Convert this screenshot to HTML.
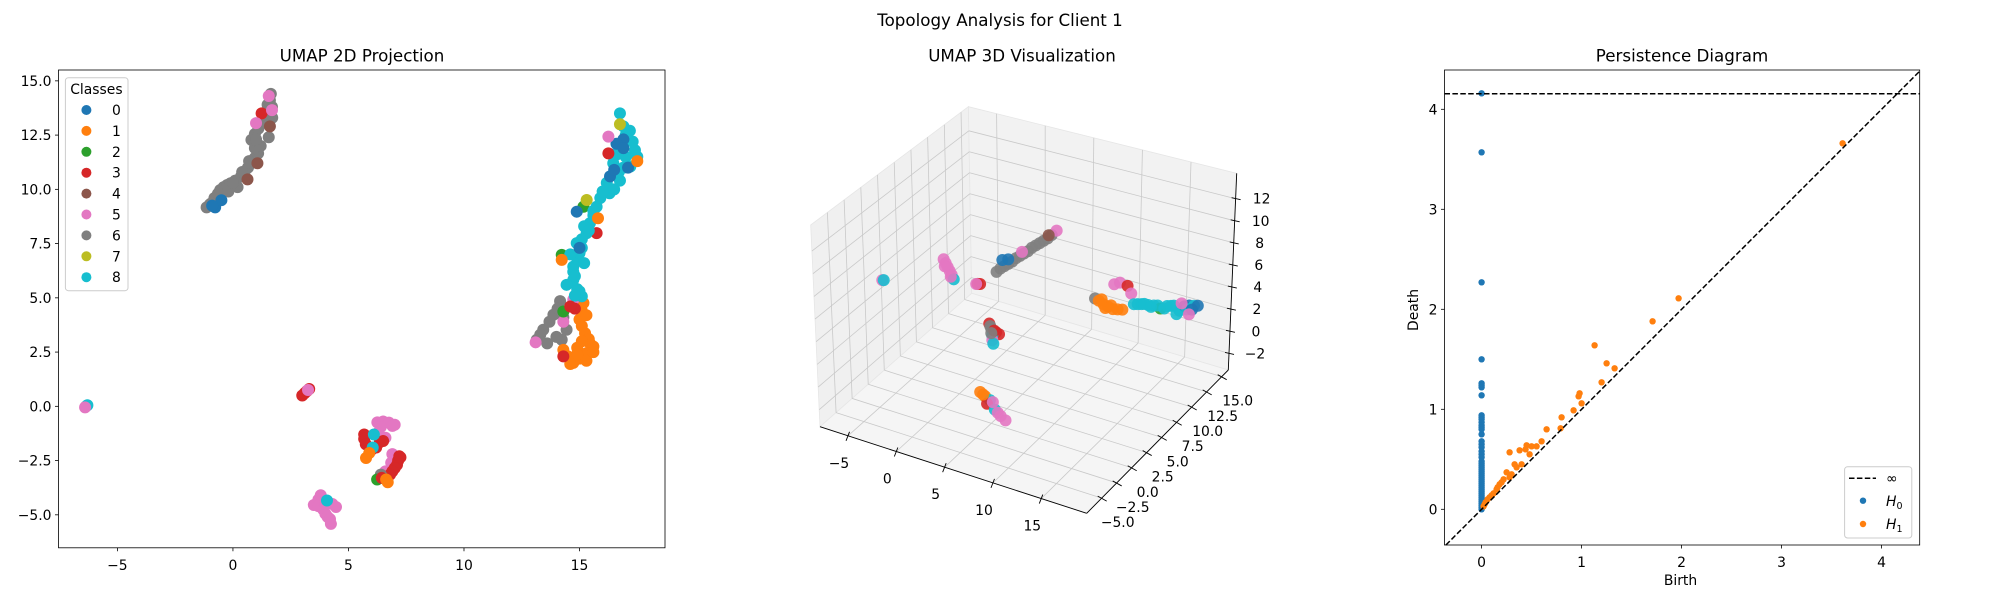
<!DOCTYPE html>
<html><head><meta charset="utf-8"><style>
html,body{margin:0;padding:0;background:#fff;}
svg{display:block;font-family:"DejaVu Sans","Liberation Sans",sans-serif;}
</style></head><body>
<svg id="fig" width="2000" height="600" viewBox="0 0 2000 600" xmlns="http://www.w3.org/2000/svg">
<text x="1000" y="26" font-size="16.7" text-anchor="middle">Topology Analysis for Client 1</text>
<text x="362" y="61.5" font-size="16.7" text-anchor="middle">UMAP 2D Projection</text>
<text x="1022" y="61.5" font-size="16.7" text-anchor="middle">UMAP 3D Visualization</text>
<text x="1682" y="61.5" font-size="16.7" text-anchor="middle">Persistence Diagram</text>
<g id="g2d"></g>
<g id="g3d"></g>
<g id="gpd"></g>
</svg>
<script>
const COLORS=['#1f77b4','#ff7f0e','#2ca02c','#d62728','#8c564b','#e377c2','#7f7f7f','#bcbd22','#17becf'];
const classLabels=['0','1','2','3','4','5','6','7','8'];
// ---- UMAP 2D data ----
const umapX=[-1.14,-0.95,-0.8,-0.65,-0.55,-0.4,-0.25,-0.1,0.1,0.35,0.5,0.65,0.8,0.95,1.09,0.95,0.8,0.95,1.1,1.24,1.45,1.69,1.6,1.64,1.7,1.55,0.2,-0.2,
-1.0,0.0,0.4,0.7,1.2,1.0,1.3,1.5,
-0.77,-0.5,-0.9,0.63,1.06,1.6,1.24,1.69,1.0,1.55,
-6.36,-6.3,-6.4,
3.0,3.1,3.2,3.3,3.25,
6.25,6.5,6.75,7.0,6.4,6.3,6.6,6.9,5.68,5.68,5.75,6.36,6.2,6.5,6.0,6.1,6.05,5.76,5.9,
6.9,6.85,6.6,7.2,7.15,7.1,7.0,6.9,6.8,7.25,6.4,6.5,6.24,6.44,6.63,6.7,
3.8,3.7,3.5,3.7,3.9,4.0,4.1,4.24,4.2,4.46,4.3,4.0,4.07,
13.15,13.43,13.7,13.87,14.16,14.23,14.44,14.0,13.3,14.05,14.3,13.6,
15.17,15.1,15.0,15.1,15.24,15.45,15.6,15.31,15.0,14.73,14.5,14.3,15.3,14.9,15.3,15.4,14.9,15.6,14.6,15.1,
14.73,14.3,13.1,14.8,14.3,15.74,14.3,14.23,15.17,
15.1,14.9,14.73,14.44,14.73,14.73,14.9,15.0,14.88,15.1,15.31,15.45,15.6,15.74,15.9,16.18,16.3,16.46,16.75,17.2,17.5,17.4,17.18,16.9,16.75,16.6,16.9,15.2,14.6,
15.0,14.8,15.2,15.1,15.4,15.6,16.0,16.5,16.7,17.0,17.3,17.0,16.4,14.8,14.6,
16.9,16.32,17.1,14.88,15.0,16.6,16.9,16.5,16.75,15.31,16.25,16.25,15.8,14.23,17.5];
const umapY=[9.17,9.35,9.6,9.8,9.97,10.1,10.2,10.28,10.4,10.59,10.8,11.0,11.2,11.45,11.66,11.9,12.28,12.55,12.8,13.05,13.4,13.8,14.1,14.4,13.3,12.4,10.1,9.9,
9.3,10.3,10.8,11.3,12.0,12.3,13.2,13.9,
9.17,9.5,9.25,10.46,11.2,12.9,13.5,13.65,13.05,14.3,
0.0,0.05,-0.05,
0.5,0.6,0.7,0.8,0.75,
-0.74,-0.7,-0.75,-0.85,-0.95,-1.2,-1.45,-0.9,-1.3,-1.5,-1.75,-1.65,-1.9,-1.6,-2.0,-1.3,-1.9,-2.38,-2.15,
-2.2,-2.6,-3.0,-2.3,-2.5,-2.7,-2.85,-3.0,-3.15,-2.35,-3.15,-3.3,-3.37,-3.3,-3.37,-3.5,
-4.1,-4.3,-4.55,-4.6,-4.75,-4.95,-5.1,-5.42,-5.2,-4.64,-4.5,-4.5,-4.34,
3.07,3.53,3.9,4.22,4.85,3.07,3.53,3.2,3.3,4.5,4.1,2.9,
4.76,4.4,4.0,3.7,3.37,2.9,2.76,2.45,2.2,2.0,2.3,2.6,2.1,2.7,4.2,3.1,2.4,2.5,1.95,3.0,
4.91,3.9,2.95,4.5,2.3,7.98,4.37,6.98,9.2,
5.07,5.4,5.83,5.6,6.2,6.44,6.8,7.06,7.52,7.7,7.98,8.44,8.8,9.2,9.6,10.3,9.82,11.2,10.4,11.05,11.5,11.8,12.7,12.9,13.5,11.6,11.0,8.3,7.0,
5.3,6.0,6.6,7.3,8.1,9.0,9.9,10.0,10.8,11.5,12.2,12.5,11.6,5.1,4.6,
12.3,10.6,11.0,8.97,7.3,12.1,11.9,10.9,13.0,9.51,12.43,11.66,8.67,6.75,11.3];
const umapClass=[6,6,6,6,6,6,6,6,6,6,6,6,6,6,6,6,6,6,6,6,6,6,6,6,6,6,6,6,
6,6,6,6,6,6,6,6,
0,0,0,4,4,4,3,5,5,5,
5,8,5,
3,3,3,3,5,
5,5,5,5,5,5,5,5,3,3,3,3,3,3,3,8,8,1,1,
5,5,5,3,3,3,3,3,3,3,6,6,2,3,1,1,
5,5,5,5,5,5,5,5,5,5,5,5,8,
6,6,6,6,6,6,6,6,6,6,6,6,
1,1,1,1,1,1,1,1,1,1,1,1,1,1,1,1,1,1,1,1,
5,5,5,3,3,3,2,2,2,
8,8,8,8,8,8,8,8,8,8,8,8,8,8,8,8,8,8,8,8,8,8,8,8,8,8,8,8,8,
8,8,8,8,8,8,8,8,8,8,8,8,8,8,3,
0,0,0,0,0,0,0,0,7,7,5,3,1,1,1];
const xTicks2d=[-5,0,5,10,15];
const yTicks2d=[-5,-2.5,0,2.5,5,7.5,10,12.5,15];
// ---- UMAP 3D data ----
const u3X=[-5.75,-5.6,
-1.0,-0.8,-0.6,-0.4,-0.2,0,-0.9,-0.3,
2.45,2.7,2.3,
4.4,5.2,6.0,6.8,7.6,8.4,9.2,10.0,4.8,5.6,6.4,7.2,8.0,8.8,9.6,10.5,9.7,5.0,5.6,7.0,
3.6,3.8,4.3,4.6,3.9,3.9,4.0,3.7,4.1,3.8,
5.7,6.2,6.7,6.4,7.2,7.8,8.3,7.0,6.0,7.5,
6.9,7.3,7.8,8.3,8.8,9.3,9.8,8.0,8.6,7.6,8.9,9.5,10.3,10.7,11.0,11.8,12.5,13.1,13.8,14.5,15.2,15.8,16.3,16.8,17.3,17.7,11.4,12.1,12.8,13.5,14.2,14.9,16.6,17.1,16.0,15.5,16.8];
const u3Y=[-0.42,-0.42,
1.94,1.94,1.94,1.94,1.94,1.94,1.94,1.94,
1.94,1.94,1.94,
1.94,1.94,1.94,1.94,1.94,1.94,1.94,1.94,1.94,1.94,1.94,1.94,1.94,1.94,1.94,1.94,1.94,1.94,1.94,1.94,
1.94,1.94,1.94,1.94,1.94,1.94,1.94,1.94,1.94,1.94,
-2.78,-2.78,-2.78,-2.78,-2.78,-2.78,-2.78,-2.78,-2.78,-2.78,
13.7,13.7,13.7,13.7,13.7,13.7,13.7,13.7,13.7,13.7,13.7,13.7,13.7,13.7,13.7,13.7,13.7,13.7,13.7,13.7,13.7,13.7,13.7,13.7,13.7,13.7,13.7,13.7,13.7,13.7,13.7,13.7,13.7,13.7,13.7,13.7,13.7];
const u3Z=[6.67,6.7,
8.6,8.3,8.0,7.7,7.4,7.05,8.0,7.2,
7.25,7.3,7.2,
8.8,9.5,10.1,10.8,11.4,12.1,12.7,13.4,9.2,9.8,10.5,11.1,11.8,12.4,13.0,13.9,13.3,10.0,10.2,11.2,
4.0,3.6,3.4,3.3,3.0,2.6,2.3,3.8,3.5,3.2,
0.85,0.6,0.4,0.0,-0.3,-0.7,-0.95,0.3,0.7,-0.5,
1.1,1.0,0.8,0.7,0.6,0.7,0.8,0.5,0.9,1.2,2.9,3.2,3.1,2.5,1.6,1.8,1.9,2.0,1.9,2.3,2.5,2.2,2.7,2.9,3.0,3.1,1.7,1.9,1.8,2.1,2.0,2.4,2.5,2.6,2.9,1.8,2.1];
const u3Class=[5,8,
5,5,5,5,5,8,5,5,
3,3,5,
6,6,6,6,6,6,6,6,6,6,6,6,6,6,6,5,4,0,0,5,
3,6,3,3,8,5,8,6,3,6,
1,1,8,3,8,5,5,5,1,5,
6,1,1,1,1,1,1,1,1,1,5,5,3,5,8,8,8,8,2,8,8,8,0,0,8,0,8,8,8,8,8,8,8,0,5,8,5];
const xTicks3d=[-5,0,5,10,15];
const yTicks3d=[-5,-2.5,0,2.5,5,7.5,10,12.5,15];
const zTicks3d=[-2,0,2,4,6,8,10,12];
// ---- Persistence data ----
const h0Death=[4.16,3.57,2.27,1.50,1.26,1.24,1.22,1.14,0.94,0.92,0.90,0.87,0.84,0.82,0.80,0.75,0.68,0.65,0.62,0.58,0.55,0.52,0.48,0.46,0.44,0.42,0.40,0.38,0.36,0.34,0.32,0.30,0.28,0.26,0.24,0.22,0.20,0.18,0.16,0.14,0.12,0.10,0.08,0.06,0.04,0.02,0.0];
const h1Birth=[3.61,1.97,1.71,1.13,1.25,1.33,1.2,0.98,0.97,1.0,0.92,0.8,0.79,0.65,0.6,0.55,0.5,0.45,0.44,0.38,0.28,0.48,0.33,0.35,0.25,0.3,0.2,0.22,0.18,0.15,0.12,0.1,0.08,0.06,0.04,0.03,0.02,0.28,0.4,0.16];
const h1Death=[3.66,2.11,1.88,1.64,1.46,1.41,1.27,1.16,1.13,1.06,0.99,0.92,0.81,0.8,0.68,0.63,0.63,0.64,0.6,0.59,0.57,0.55,0.45,0.42,0.37,0.35,0.27,0.3,0.25,0.2,0.16,0.14,0.12,0.1,0.07,0.05,0.03,0.32,0.45,0.22];
const pdTicks=[0,1,2,3,4];
const infDeath=4.156;

const NS='http://www.w3.org/2000/svg';
function mk(parent,tag,attrs,name){const e=document.createElementNS(NS,tag);for(const k in attrs)e.setAttribute(k,attrs[k]);


parent.appendChild(e);return e;}
function fmt(v,d){const s=v.toFixed(d);return s.replace('-','\u2212');}

// ===== 2D plot =====
(function(){
const g=document.getElementById('g2d');
const X0=58.5,X1=665,Y0=70,Y1=547.8,xmin=-7.55,xmax=18.7,ymin=-6.52,ymax=15.5;
const sx=x=>X0+(x-xmin)/(xmax-xmin)*(X1-X0);
const sy=y=>Y1-(y-ymin)/(ymax-ymin)*(Y1-Y0);
for(let i=0;i<umapX.length;i++){
  mk(g,'circle',{cx:sx(umapX[i]),cy:sy(umapY[i]),r:6,fill:COLORS[umapClass[i]]},'umap-2d-point');
}
mk(g,'rect',{x:X0,y:Y0,width:X1-X0,height:Y1-Y0,fill:'none',stroke:'#000','stroke-width':0.8},'umap-2d-frame');
xTicks2d.forEach(t=>{const x=sx(t);
  mk(g,'line',{x1:x,x2:x,y1:Y1,y2:Y1+3.5,stroke:'#000','stroke-width':0.8},'x-tick');
  const tx=mk(g,'text',{x:x,y:Y1+22,'font-size':13.9,'text-anchor':'middle'},'x-tick-label');tx.textContent=fmt(t,0);});
yTicks2d.forEach(t=>{const y=sy(t);
  mk(g,'line',{x1:X0-3.5,x2:X0,y1:y,y2:y,stroke:'#000','stroke-width':0.8},'y-tick');
  const tx=mk(g,'text',{x:X0-7,y:y+5,'font-size':13.9,'text-anchor':'end'},'y-tick-label');tx.textContent=fmt(t,1);});
const lg=mk(g,'g',{},'legend');
mk(lg,'rect',{x:65.4,y:77.7,width:62.6,height:213,rx:3,fill:'#fff','fill-opacity':0.8,stroke:'#cccccc','stroke-width':1},'legend-frame');
const tt=mk(lg,'text',{x:96.4,y:94,'font-size':13.9,'text-anchor':'middle'},'legend-title');tt.textContent='Classes';
classLabels.forEach((c,i)=>{const y=110+i*20.9;
  mk(lg,'circle',{cx:86.4,cy:y,r:5,fill:COLORS[i]},'legend-marker');
  const t=mk(lg,'text',{x:116.4,y:y+5,'font-size':13.9,'text-anchor':'middle'},'legend-entry');t.textContent=c;});
})();

// ===== 3D plot =====
(function(){
const g=document.getElementById('g3d');
const xmin=-7.9,xmax=19.7,ymin=-7.5,ymax=16.1,zmin=-3.5,zmax=14.3;
const L=[820,426.7],F=[1086.7,513.3],R=[1228.3,370],B=[971.7,293.3];
const VL=[-9.3,-201.7],VF=[2.4,-211.8],VR=[8.4,-196.7],VB=[-3.3,-186.6];
function bil(a,b,c,d,u,v){
 return [a[0]*(1-u)*(1-v)+b[0]*u*(1-v)+c[0]*u*v+d[0]*(1-u)*v, a[1]*(1-u)*(1-v)+b[1]*u*(1-v)+c[1]*u*v+d[1]*(1-u)*v];}
function P(x,y,z){const u=(x-xmin)/(xmax-xmin),v=(y-ymin)/(ymax-ymin),w=(z-zmin)/(zmax-zmin);
 const b=bil(L,F,R,B,u,v),vv=bil(VL,VF,VR,VB,u,v);return [b[0]+w*vv[0],b[1]+w*vv[1]];}
function poly(pts,fill,name){mk(g,'polygon',{points:pts.map(p=>p.join(',')).join(' '),fill:fill,stroke:'#e6e6e6','stroke-width':0.8},name);}
function ln(a,b,col,w,name){mk(g,'line',{x1:a[0],y1:a[1],x2:b[0],y2:b[1],stroke:col,'stroke-width':w},name);}
poly([P(xmin,ymin,zmin),P(xmin,ymax,zmin),P(xmin,ymax,zmax),P(xmin,ymin,zmax)],'#f0f0f0','pane-left');
poly([P(xmin,ymax,zmin),P(xmax,ymax,zmin),P(xmax,ymax,zmax),P(xmin,ymax,zmax)],'#f2f2f2','pane-back');
poly([P(xmin,ymin,zmin),P(xmax,ymin,zmin),P(xmax,ymax,zmin),P(xmin,ymax,zmin)],'#f5f5f5','pane-floor');
const gc='#c9c9c9';
yTicks3d.forEach(t=>{ln(P(xmin,t,zmin),P(xmin,t,zmax),gc,0.8,'grid-line');ln(P(xmin,t,zmin),P(xmax,t,zmin),gc,0.8,'grid-line');});
xTicks3d.forEach(t=>{ln(P(t,ymax,zmin),P(t,ymax,zmax),gc,0.8,'grid-line');ln(P(t,ymin,zmin),P(t,ymax,zmin),gc,0.8,'grid-line');});
zTicks3d.forEach(t=>{ln(P(xmin,ymin,t),P(xmin,ymax,t),gc,0.8,'grid-line');ln(P(xmin,ymax,t),P(xmax,ymax,t),gc,0.8,'grid-line');});
for(let i=0;i<u3X.length;i++){const p=P(u3X[i],u3Y[i],u3Z[i]);
 mk(g,'circle',{cx:p[0],cy:p[1],r:6,fill:COLORS[u3Class[i]],'fill-opacity':0.9},'umap-3d-point');}
ln(P(xmin,ymin,zmin),P(xmax,ymin,zmin),'#000',0.9,'x-axis-3d');
ln(P(xmax,ymin,zmin),P(xmax,ymax,zmin),'#000',0.9,'y-axis-3d');
ln(P(xmax,ymax,zmin),P(xmax,ymax,zmax),'#000',0.9,'z-axis-3d');
xTicks3d.forEach(t=>{const p=P(t,ymin,zmin);ln([p[0]+1.5,p[1]-4],[p[0]-2,p[1]+5],'#000',0.9,'x-tick');
 const tx=mk(g,'text',{x:p[0]-9,y:p[1]+32,'font-size':13.9,'text-anchor':'middle'},'x-tick-label');tx.textContent=fmt(t,0);});
yTicks3d.forEach(t=>{const p=P(xmax,t,zmin);ln([p[0]-4,p[1]-2],[p[0]+5,p[1]+3],'#000',0.9,'y-tick');
 const tx=mk(g,'text',{x:p[0]+16,y:p[1]+29,'font-size':13.9,'text-anchor':'middle'},'y-tick-label');tx.textContent=fmt(t,1);});
zTicks3d.forEach(t=>{const p=P(xmax,ymax,t);ln([p[0]-4,p[1]-1],[p[0]+5,p[1]+1],'#000',0.9,'z-tick');
 const tx=mk(g,'text',{x:p[0]+26,y:p[1]+5,'font-size':13.9,'text-anchor':'middle'},'z-tick-label');tx.textContent=fmt(t,0);});
})();

// ===== Persistence diagram =====
(function(){
const g=document.getElementById('gpd');
const X0=1444.5,X1=1919.7,Y0=70,Y1=545,xmin=-0.371,xmax=4.381,ymin=-0.357,ymax=4.393;
const sx=x=>X0+(x-xmin)/(xmax-xmin)*(X1-X0);
const sy=y=>Y1-(y-ymin)/(ymax-ymin)*(Y1-Y0);
const lo=Math.max(xmin,ymin),hi=Math.min(xmax,ymax);
for(let i=0;i<h0Death.length;i++) mk(g,'circle',{cx:sx(0),cy:sy(h0Death[i]),r:3.2,fill:COLORS[0]},'h0-point');
for(let i=0;i<h1Birth.length;i++) mk(g,'circle',{cx:sx(h1Birth[i]),cy:sy(h1Death[i]),r:3.2,fill:COLORS[1]},'h1-point');
mk(g,'line',{x1:sx(lo),y1:sy(lo),x2:sx(hi),y2:sy(hi),stroke:'#000','stroke-width':1.5,'stroke-dasharray':'5.5,2.4'},'diagonal-line');
mk(g,'line',{x1:X0,y1:sy(infDeath),x2:X1,y2:sy(infDeath),stroke:'#000','stroke-width':1.5,'stroke-dasharray':'5.5,2.4'},'infinity-line');
mk(g,'rect',{x:X0,y:Y0,width:X1-X0,height:Y1-Y0,fill:'none',stroke:'#000','stroke-width':0.8},'persistence-frame');
pdTicks.forEach(t=>{const x=sx(t),y=sy(t);
 mk(g,'line',{x1:x,x2:x,y1:Y1,y2:Y1+3.5,stroke:'#000','stroke-width':0.8},'x-tick');
 const a=mk(g,'text',{x:x,y:Y1+22,'font-size':13.9,'text-anchor':'middle'},'x-tick-label');a.textContent=String(t);
 mk(g,'line',{x1:X0-3.5,x2:X0,y1:y,y2:y,stroke:'#000','stroke-width':0.8},'y-tick');
 const b=mk(g,'text',{x:X0-7,y:y+5,'font-size':13.9,'text-anchor':'end'},'y-tick-label');b.textContent=String(t);});
const xl=mk(g,'text',{x:1680.5,y:585,'font-size':13.9,'text-anchor':'middle'},'x-axis-title');xl.textContent='Birth';
const yl=mk(g,'text',{x:0,y:0,'font-size':13.9,'text-anchor':'middle',transform:'translate(1418,310) rotate(-90)'},'y-axis-title');yl.textContent='Death';
const lg=mk(g,'g',{},'legend');
mk(lg,'rect',{x:1844.6,y:466.7,width:67.2,height:71.3,rx:3,fill:'#fff','fill-opacity':0.8,stroke:'#cccccc','stroke-width':1},'legend-frame');
mk(lg,'line',{x1:1849,y1:478.3,x2:1876,y2:478.3,stroke:'#000','stroke-width':1.5,'stroke-dasharray':'5.5,2.4'},'legend-infinity-line');
const t1=mk(lg,'text',{x:1886,y:483,'font-size':13.9},'legend-entry');t1.textContent='\u221e';
mk(lg,'circle',{cx:1863,cy:500.7,r:3.2,fill:COLORS[0]},'legend-h0-marker');
const t2=mk(lg,'text',{x:1886,y:506,'font-size':13.9,'font-style':'italic'},'legend-entry');t2.innerHTML='H<tspan font-size="9.5" dy="3" font-style="normal">0</tspan>';
mk(lg,'circle',{cx:1863,cy:524,r:3.2,fill:COLORS[1]},'legend-h1-marker');
const t3=mk(lg,'text',{x:1886,y:529,'font-size':13.9,'font-style':'italic'},'legend-entry');t3.innerHTML='H<tspan font-size="9.5" dy="3" font-style="normal">1</tspan>';
})();
</script>
</body></html>
